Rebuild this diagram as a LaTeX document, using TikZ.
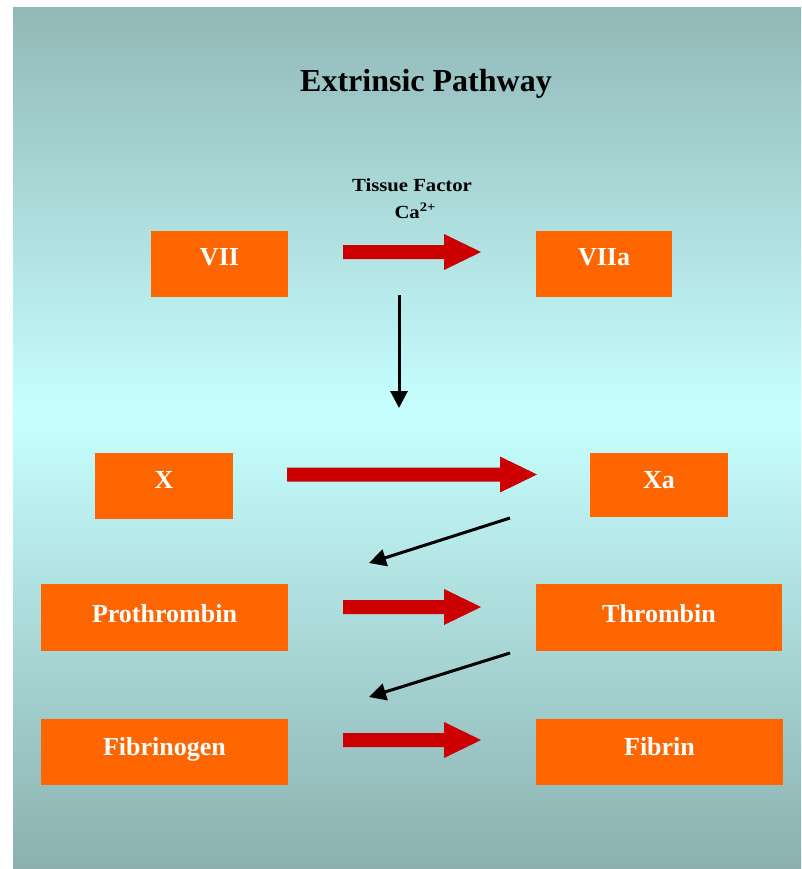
\documentclass[tikz,border=0pt]{standalone}
\usepackage{fontspec}
\setmainfont{Liberation Serif}
\newfontfamily\widefont[FakeStretch=1.12]{Liberation Serif}
\usetikzlibrary{calc,arrows.meta}
\definecolor{bgteal}{RGB}{139,176,175}
\definecolor{bgcyan}{RGB}{199,255,255}
\definecolor{boxorange}{RGB}{255,102,0}
\definecolor{arrowred}{RGB}{204,0,0}
\begin{document}
\begin{tikzpicture}[x=1pt,y=-1pt,
  box/.style={fill=boxorange, inner sep=0pt, text=white,
    font=\bfseries\fontsize{26}{30}\selectfont, anchor=base, minimum width=#1},
  blockarrow/.style={fill=arrowred, draw=none,
    to path={($(\tikztostart)+(0,-7)$) -- ($(\tikztotarget)+(-37,-7)$)
      -- ($(\tikztotarget)+(-37,-18)$) -- (\tikztotarget)
      -- ($(\tikztotarget)+(-37,18)$) -- ($(\tikztotarget)+(-37,7)$)
      -- ($(\tikztostart)+(0,7)$) -- cycle}},
  blackarrow/.style={draw=black, line width=3pt,
    -{Triangle[length=17pt,width=17pt]}},
  titletext/.style={font=\bfseries\fontsize{32}{38}\selectfont, anchor=base},
  labeltext/.style={font=\widefont\bfseries\fontsize{18.5}{22}\selectfont, anchor=base}
]
% page and background
\useasboundingbox (0,0) rectangle (801,869);
\fill[white] (0,0) rectangle (801,869);
\begin{scope}
  \clip (13,8) rectangle (801,869);
  \shade[top color=bgteal, bottom color=bgteal, middle color=bgcyan]
    (13,-40) rectangle (801,869);
\end{scope}

% title
\node[titletext] (title) at (426,92) {Extrinsic Pathway};

% labels over first arrow
\node[labeltext] (tf) at (412,191) {Tissue Factor};
\node[labeltext, anchor=base west] (ca) at (391,218) {Ca\textsuperscript{2+}};

% boxes
\node[box=137pt, text height=34pt, text depth=32pt] (vii)  at (219.5,265) {VII};
\node[box=136pt, text height=34pt, text depth=32pt] (viia) at (604,265) {VIIa};
\node[box=138pt, text height=35pt, text depth=31pt] (x)    at (164,488) {X};
\node[box=138pt, text height=35pt, text depth=29pt] (xa)   at (659,488) {Xa};
\node[box=247pt, text height=38pt, text depth=29pt] (pro)  at (164.5,622) {Prothrombin};
\node[box=246pt, text height=38pt, text depth=29pt] (thr)  at (659,622) {Thrombin};
\node[box=247pt, text height=36pt, text depth=30pt] (fbg)  at (164.5,755) {Fibrinogen};
\node[box=247pt, text height=36pt, text depth=30pt] (fbn)  at (659.5,755) {Fibrin};

% arrow end points
\coordinate (r1s) at (343,252);   \coordinate (r1e) at (481,252);
\coordinate (r2s) at (287,474.5); \coordinate (r2e) at (537,474.5);
\coordinate (r3s) at (343,607);   \coordinate (r3e) at (481,607);
\coordinate (r4s) at (343,740);   \coordinate (r4e) at (481,740);
\coordinate (v1s) at (399,295);   \coordinate (v1e) at (399,408);
\coordinate (d1s) at (510,518);   \coordinate (d1e) at (369,563);
\coordinate (d2s) at (510,653);   \coordinate (d2e) at (369,697);

% red block arrows
\fill[blockarrow] (r1s) to (r1e);
\fill[blockarrow] (r2s) to (r2e);
\fill[blockarrow] (r3s) to (r3e);
\fill[blockarrow] (r4s) to (r4e);

% black arrows
\draw[blackarrow] (v1s) -- (v1e);
\draw[blackarrow] (d1s) -- (d1e);
\draw[blackarrow] (d2s) -- (d2e);
\end{tikzpicture}
\end{document}
